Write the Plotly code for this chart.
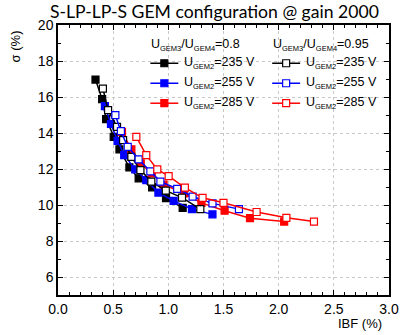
import plotly.graph_objects as go

# IBF (%) and sigma (%) values
ibf_235_08 = [0.34, 0.40, 0.436, 0.505, 0.557, 0.647, 0.731, 0.853, 0.979, 1.13]
sig_235_08 = [16.97, 15.88, 14.77, 13.78, 13.09, 12.09, 11.48, 10.98, 10.38, 9.84]

ibf_255_08 = [0.425, 0.48, 0.54, 0.60, 0.70, 0.80, 0.91, 1.048, 1.214, 1.40]
sig_255_08 = [15.49, 14.50, 13.56, 12.77, 11.98, 11.38, 10.69, 10.23, 9.77, 9.48]

ibf_285_08 = [0.58, 0.665, 0.75, 0.85, 0.957, 1.14, 1.30, 1.51, 1.74, 2.05]
sig_285_08 = [14.06, 13.09, 12.31, 11.75, 11.14, 10.64, 10.12, 9.68, 9.27, 9.08]

ibf_235_095 = [0.407, 0.454, 0.535, 0.59, 0.665, 0.747, 0.846, 0.977, 1.124, 1.29]
sig_235_095 = [16.47, 15.27, 14.34, 13.60, 12.67, 11.94, 11.30, 10.80, 10.41, 9.77]

ibf_255_095 = [0.52, 0.57, 0.632, 0.731, 0.837, 0.928, 1.08, 1.22, 1.40, 1.64]
sig_255_095 = [14.99, 14.10, 13.23, 12.53, 11.87, 11.30, 10.90, 10.47, 10.09, 9.77]

ibf_285_095 = [0.71, 0.80, 0.90, 1.003, 1.15, 1.31, 1.50, 1.80, 2.07, 2.32]
sig_285_095 = [13.78, 12.77, 11.98, 11.60, 10.97, 10.40, 10.12, 9.61, 9.29, 9.08]

voltages = ["235", "255", "285"]
colors = ["#000000", "#0000FF", "#FF0000"]
ratio_labels = ["0.8", "0.95"]

groups = [
    [(ibf_235_08, sig_235_08), (ibf_255_08, sig_255_08), (ibf_285_08, sig_285_08)],
    [(ibf_235_095, sig_235_095), (ibf_255_095, sig_255_095), (ibf_285_095, sig_285_095)],
]

W, H = 400, 335
L, R, T, B = 57.5, 11, 24.7, 40
pw = W - L - R
ph = H - T - B

def px(xp):
    return (xp - L) / pw

def py(yp):
    return (H - B - yp) / ph

fig = go.Figure()
for gi, grp in enumerate(groups):
    filled = gi == 0
    for vi, (xs, ys) in enumerate(grp):
        col = colors[vi]
        fig.add_trace(go.Scatter(
            x=xs, y=ys, mode="lines+markers", showlegend=False,
            line=dict(color=col, width=1.5),
            marker=dict(symbol="square", size=7,
                        color=col if filled else "white",
                        line=dict(color=col, width=1.2)),
        ))

FONT = "Liberation Sans"
SUB = 'font-size:7.5px'

def sub(t):
    return f'<sub><span style="{SUB}">{t}</span></sub>'

axis_common = dict(
    showline=True, linecolor="black", linewidth=1.5, mirror="allticks",
    ticks="inside", ticklen=5, tickwidth=1, tickcolor="black",
    showgrid=True, gridcolor="#c8c8c8", griddash="dot", gridwidth=1,
    zeroline=False, automargin=False,
    tickfont=dict(family=FONT, size=14, color="black"),
)

fig.update_xaxes(range=[0, 3], dtick=0.5, tick0=0, tickformat=".1f",
                 minor=dict(dtick=0.1, ticks="inside", ticklen=3, tickcolor="black", showgrid=False),
                 **axis_common)
fig.update_yaxes(range=[5, 20], dtick=2, tick0=0,
                 minor=dict(dtick=1, ticks="inside", ticklen=3, tickcolor="black", showgrid=False),
                 **axis_common)

leg_font = dict(family=FONT, size=12.5, color="black")
annotations = [
    dict(text="σ (%)", textangle=-90, xref="paper", yref="paper",
         x=px(5), y=py(28), xanchor="left", yanchor="top", showarrow=False,
         font=dict(family=FONT, size=13, color="black")),
    dict(text="IBF (%)", xref="paper", yref="paper",
         x=px(384), y=py(314), xanchor="right", yanchor="top", showarrow=False,
         font=dict(family=FONT, size=13, color="black")),
]
shapes = []

# manual two-column legend
col_x = [150, 272]
header_y = 45
row_y = [63, 83, 103]
for gi in range(2):
    x0 = col_x[gi]
    annotations.append(dict(
        text="U" + sub("GEM3") + "/U" + sub("GEM4") + "=" + ratio_labels[gi],
        xref="paper", yref="paper", x=px(x0 - 1), y=py(header_y),
        xanchor="left", yanchor="middle", showarrow=False, font=leg_font))
    for vi in range(3):
        yy = row_y[vi]
        col = colors[vi]
        shapes.append(dict(type="line", xref="paper", yref="paper",
                           x0=px(x0), x1=px(x0 + 28), y0=py(yy), y1=py(yy),
                           line=dict(color=col, width=1.5)))
        cx = x0 + 14
        shapes.append(dict(type="rect", xref="paper", yref="paper",
                           x0=px(cx - 3.5), x1=px(cx + 3.5), y0=py(yy - 3.5), y1=py(yy + 3.5),
                           fillcolor=col if gi == 0 else "white",
                           line=dict(color=col, width=1.2)))
        annotations.append(dict(
            text="U" + sub("GEM2") + "=" + voltages[vi] + " V",
            xref="paper", yref="paper", x=px(x0 + 32), y=py(yy),
            xanchor="left", yanchor="middle", showarrow=False, font=leg_font))

fig.update_layout(
    width=W, height=H,
    margin=dict(l=L, r=R, t=T, b=B, autoexpand=False),
    paper_bgcolor="white", plot_bgcolor="white",
    title=dict(text="S-LP-LP-S GEM configuration @ gain 2000",
               font=dict(family="Lato", size=17.6, color="black"),
               x=50 / W, xanchor="left", xref="container",
               y=1 - 12 / H, yanchor="middle"),
    showlegend=False,
    annotations=annotations,
    shapes=shapes,
)

fig.write_html("out.html")
